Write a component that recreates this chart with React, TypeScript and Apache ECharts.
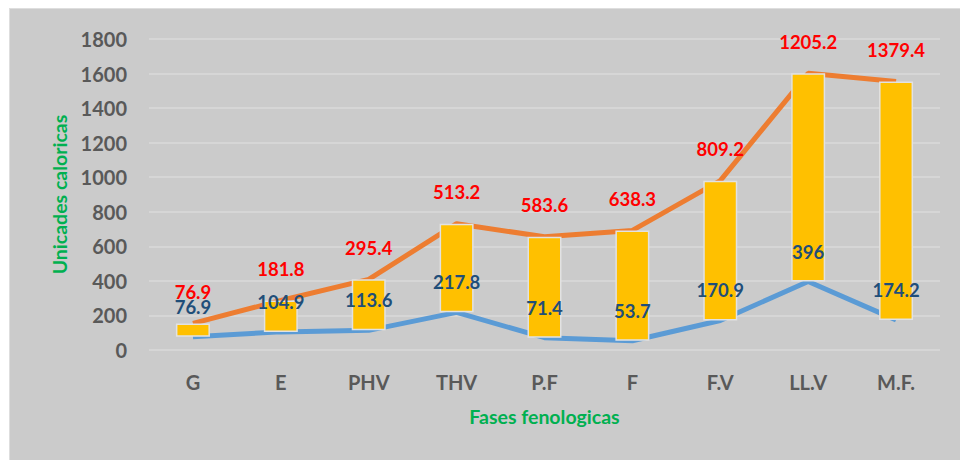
import React, { useEffect, useRef } from "react";
import * as echarts from "echarts";

const categories = ["G", "E", "PHV", "THV", "P.F", "F", "F.V", "LL.V", "M.F."];
const lowerValues = [76.9, 104.9, 113.6, 217.8, 71.4, 53.7, 170.9, 396, 174.2];
const incrementValues = [76.9, 181.8, 295.4, 513.2, 583.6, 638.3, 809.2, 1205.2, 1379.4];
const yTicks = { min: 0, max: 1800, interval: 200 };
const xTitle = "Fases fenologicas";
const yTitle = "Unicades caloricas";

const FONT = "Lato, 'Open Sans', sans-serif";

export default function App() {
  const ref = useRef<HTMLDivElement>(null);

  useEffect(() => {
    if (!ref.current) return;
    const chart = echarts.init(ref.current, undefined, { renderer: "svg" });
    const upperValues = lowerValues.map((v, i) => +(v + incrementValues[i]).toFixed(1));

    chart.setOption({
      animation: false,
      backgroundColor: "#cbcbcb",
      textStyle: { fontFamily: FONT },
      grid: { left: 139, right: 20, top: 30, bottom: 110 },
      xAxis: {
        type: "category",
        data: categories,
        boundaryGap: true,
        axisLine: { show: false },
        axisTick: { show: false },
        axisLabel: {
          color: "#595959",
          fontWeight: "bold",
          fontSize: 20,
          fontFamily: FONT,
          margin: 22,
        },
        name: xTitle,
        nameLocation: "middle",
        nameGap: 56,
        nameTextStyle: {
          color: "#00b050",
          fontWeight: "bold",
          fontSize: 19.5,
          fontFamily: FONT,
        },
      },
      yAxis: {
        type: "value",
        min: yTicks.min,
        max: yTicks.max,
        interval: yTicks.interval,
        axisLine: { show: false },
        axisTick: { show: false },
        splitLine: { lineStyle: { color: "#dadada", width: 1.5 } },
        axisLabel: {
          color: "#595959",
          fontWeight: "bold",
          fontSize: 20,
          fontFamily: FONT,
          margin: 22,
          formatter: (v: number) => String(v),
        },
        name: yTitle,
        nameLocation: "middle",
        nameRotate: 90,
        nameGap: 78,
        nameTextStyle: {
          color: "#00b050",
          fontWeight: "bold",
          fontSize: 19.5,
          fontFamily: FONT,
        },
      },
      series: [
        {
          name: "lower",
          type: "line",
          data: lowerValues,
          z: 2,
          symbol: "none",
          lineStyle: { color: "#5b9bd5", width: 5 },
        },
        {
          name: "upper",
          type: "line",
          data: upperValues,
          z: 2,
          symbol: "none",
          lineStyle: { color: "#ed7d31", width: 5 },
        },
        {
          name: "base",
          type: "bar",
          stack: "ud",
          data: lowerValues,
          barWidth: 34,
          z: 3,
          itemStyle: { color: "rgba(0,0,0,0)" },
          silent: true,
        },
        {
          name: "updown",
          type: "bar",
          stack: "ud",
          data: incrementValues,
          barWidth: 34,
          z: 3,
          itemStyle: { color: "#ffc000", borderColor: "#e2e2e2", borderWidth: 1.5 },
        },
        {
          name: "lowerLabels",
          type: "line",
          data: lowerValues,
          z: 5,
          symbol: "circle",
          symbolSize: 1,
          itemStyle: { color: "rgba(0,0,0,0)" },
          lineStyle: { opacity: 0 },
          label: {
            show: true,
            position: "top",
            distance: 22.5,
            lineHeight: 14,
            color: "#1f4e79",
            fontWeight: "bold",
            fontSize: 18.5,
            fontFamily: FONT,
          },
        },
        {
          name: "upperLabels",
          type: "line",
          data: upperValues,
          z: 5,
          symbol: "circle",
          symbolSize: 1,
          itemStyle: { color: "rgba(0,0,0,0)" },
          lineStyle: { opacity: 0 },
          label: {
            show: true,
            position: "top",
            distance: 24,
            lineHeight: 14,
            color: "#ff0000",
            fontWeight: "bold",
            fontSize: 18.5,
            fontFamily: FONT,
            formatter: (p: any) => String(incrementValues[p.dataIndex]),
          },
        },
      ],
    });

    return () => chart.dispose();
  }, []);

  return (
    <div
      style={{
        position: "fixed",
        left: 0,
        top: 0,
        width: 960,
        height: 460,
        background: "#ffffff",
      }}
    >
      <div
        ref={ref}
        style={{
          position: "absolute",
          left: 9,
          top: 8,
          width: 951,
          height: 452,
          borderLeft: "1px solid #dedede",
          borderTop: "1px solid #dedede",
          boxSizing: "border-box",
        }}
      />
    </div>
  );
}
